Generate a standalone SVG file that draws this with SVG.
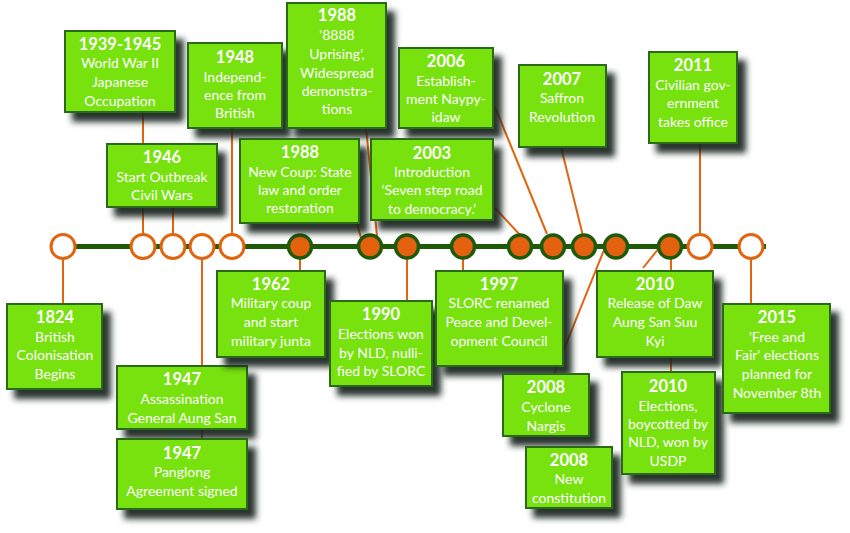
<svg xmlns="http://www.w3.org/2000/svg" width="850" height="533" viewBox="0 0 850 533">
<defs>
<filter id="sh" x="-20%" y="-20%" width="150%" height="150%">
<feDropShadow dx="8" dy="9" stdDeviation="3" flood-color="#18201a" flood-opacity="0.92"/>
</filter>
</defs>
<style>
.bx{fill:#77e20f;stroke:#2b6a16;stroke-width:2;filter:url(#sh)}
.t{font-family:Lato,"Open Sans",sans-serif;font-size:14px;fill:#fff;text-anchor:middle}
.y{font-weight:bold;font-size:16.5px}
.c{stroke:#e3640f;stroke-width:2;fill:none}
.o{fill:#fff;stroke:#e3640f;stroke-width:3}
.f{fill:#e3610f;stroke:#1e5a08;stroke-width:3.5}
</style>
<rect width="850" height="533" fill="#fff"/>
<g id="connectors">
<line class="c" x1="143" y1="112" x2="143" y2="240"/>
<line class="c" x1="173" y1="207" x2="173" y2="240"/>
<line class="c" x1="232" y1="128" x2="232" y2="240"/>
<line class="c" x1="366" y1="128" x2="377" y2="236"/>
<line class="c" x1="357" y1="223" x2="361" y2="238"/>
<line class="c" x1="495" y1="107" x2="547" y2="234"/>
<line class="c" x1="495" y1="208" x2="521" y2="236"/>
<line class="c" x1="561" y1="147" x2="583" y2="236"/>
<line class="c" x1="700" y1="143" x2="700" y2="240"/>
<line class="c" x1="63" y1="252" x2="63" y2="304"/>
<line class="c" x1="202" y1="252" x2="202" y2="439"/>
<line class="c" x1="300" y1="252" x2="300" y2="271"/>
<line class="c" x1="407" y1="252" x2="407" y2="301"/>
<line class="c" x1="463" y1="252" x2="463" y2="271"/>
<line class="c" x1="554" y1="374" x2="604" y2="250"/>
<line class="c" x1="643" y1="268" x2="659" y2="248"/>
<line class="c" x1="671" y1="252" x2="671" y2="372"/>
<line class="c" x1="751" y1="252" x2="751" y2="304"/>
</g>
<g id="timeline">
<line x1="50" y1="246.5" x2="766" y2="246.5" stroke="#1e5a08" stroke-width="5"/>
<circle class="o" cx="63" cy="246.5" r="12"/>
<circle class="o" cx="143" cy="246.5" r="12"/>
<circle class="o" cx="173" cy="246.5" r="12"/>
<circle class="o" cx="202" cy="246.5" r="12"/>
<circle class="o" cx="232" cy="246.5" r="12"/>
<circle class="f" cx="300" cy="246.5" r="11.5"/>
<circle class="f" cx="370" cy="246.5" r="11.5"/>
<circle class="f" cx="407" cy="246.5" r="11.5"/>
<circle class="f" cx="463" cy="246.5" r="11.5"/>
<circle class="f" cx="520" cy="246.5" r="11.5"/>
<circle class="f" cx="553" cy="246.5" r="11.5"/>
<circle class="f" cx="584" cy="246.5" r="11.5"/>
<circle class="f" cx="616" cy="246.5" r="11.5"/>
<circle class="f" cx="670" cy="246.5" r="11.5"/>
<circle class="o" cx="700" cy="246.5" r="12"/>
<circle class="o" cx="751" cy="246.5" r="12"/>
</g>
<g id="n1939">
<rect class="bx" x="65" y="31" width="110" height="81"/>
<text class="t"><tspan class="y" x="120" y="50">1939-1945</tspan><tspan x="120" y="68">World War II</tspan><tspan x="120" y="87">Japanese</tspan><tspan x="120" y="106">Occupation</tspan></text>
</g>
<g id="n1946">
<rect class="bx" x="107" y="144" width="110" height="63"/>
<text class="t"><tspan class="y" x="162" y="163">1946</tspan><tspan x="162" y="182">Start Outbreak</tspan><tspan x="162" y="200">Civil Wars</tspan></text>
</g>
<g id="n1948">
<rect class="bx" x="188" y="43" width="94" height="85"/>
<text class="t"><tspan class="y" x="235" y="63">1948</tspan><tspan x="235" y="82">Independ-</tspan><tspan x="235" y="100">ence from</tspan><tspan x="235" y="118">British</tspan></text>
</g>
<g id="n1988a">
<rect class="bx" x="287" y="3" width="99" height="125"/>
<text class="t"><tspan class="y" x="337" y="21">1988</tspan><tspan x="337" y="40">'8888</tspan><tspan x="337" y="59">Uprising',</tspan><tspan x="337" y="78">Widespread</tspan><tspan x="337" y="96">demonstra-</tspan><tspan x="337" y="114">tions</tspan></text>
</g>
<g id="n1988b">
<rect class="bx" x="240" y="139" width="119" height="84"/>
<text class="t"><tspan class="y" x="300" y="158">1988</tspan><tspan x="300" y="177">New Coup: State</tspan><tspan x="300" y="195">law and order</tspan><tspan x="300" y="213">restoration</tspan></text>
</g>
<g id="n2006">
<rect class="bx" x="399" y="48" width="94" height="80"/>
<text class="t"><tspan class="y" x="446" y="67">2006</tspan><tspan x="446" y="86">Establish-</tspan><tspan x="446" y="104">ment Naypy-</tspan><tspan x="446" y="122">idaw</tspan></text>
</g>
<g id="n2003">
<rect class="bx" x="371" y="139" width="122" height="81"/>
<text class="t"><tspan class="y" x="432" y="159">2003</tspan><tspan x="432" y="177">Introduction</tspan><tspan x="432" y="195">‘Seven step road</tspan><tspan x="432" y="214">to democracy.’</tspan></text>
</g>
<g id="n2007">
<rect class="bx" x="519" y="65" width="87" height="82"/>
<text class="t"><tspan class="y" x="562" y="85">2007</tspan><tspan x="562" y="103">Saffron</tspan><tspan x="562" y="122">Revolution</tspan></text>
</g>
<g id="n2011">
<rect class="bx" x="649" y="52" width="88" height="91"/>
<text class="t"><tspan class="y" x="693" y="71">2011</tspan><tspan x="693" y="90">Civilian gov-</tspan><tspan x="693" y="108">ernment</tspan><tspan x="693" y="127">takes office</tspan></text>
</g>
<g id="n1824">
<rect class="bx" x="7" y="304" width="95" height="85"/>
<text class="t"><tspan class="y" x="55" y="323">1824</tspan><tspan x="55" y="342">British</tspan><tspan x="55" y="360">Colonisation</tspan><tspan x="55" y="379">Begins</tspan></text>
</g>
<g id="n1947a">
<rect class="bx" x="117" y="366" width="130" height="63"/>
<text class="t"><tspan class="y" x="182" y="385">1947</tspan><tspan x="182" y="404">Assassination</tspan><tspan x="182" y="423">General Aung San</tspan></text>
</g>
<g id="n1947b">
<rect class="bx" x="117" y="439" width="130" height="70"/>
<text class="t"><tspan class="y" x="182" y="459">1947</tspan><tspan x="182" y="477">Panglong</tspan><tspan x="182" y="496">Agreement signed</tspan></text>
</g>
<g id="n1962">
<rect class="bx" x="217" y="271" width="108" height="86"/>
<text class="t"><tspan class="y" x="271" y="290">1962</tspan><tspan x="271" y="308">Military coup</tspan><tspan x="271" y="327">and start</tspan><tspan x="271" y="346">military junta</tspan></text>
</g>
<g id="n1990">
<rect class="bx" x="330" y="301" width="102" height="85"/>
<text class="t"><tspan class="y" x="381" y="320">1990</tspan><tspan x="381" y="339">Elections won</tspan><tspan x="381" y="358">by NLD, nulli-</tspan><tspan x="381" y="376">fied by SLORC</tspan></text>
</g>
<g id="n1997">
<rect class="bx" x="436" y="271" width="127" height="95"/>
<text class="t"><tspan class="y" x="499" y="290">1997</tspan><tspan x="499" y="308">SLORC renamed</tspan><tspan x="499" y="327">Peace and Devel-</tspan><tspan x="499" y="346">opment Council</tspan></text>
</g>
<g id="n2008a">
<rect class="bx" x="503" y="374" width="86" height="62"/>
<text class="t"><tspan class="y" x="546" y="393">2008</tspan><tspan x="546" y="412">Cyclone</tspan><tspan x="546" y="431">Nargis</tspan></text>
</g>
<g id="n2008b">
<rect class="bx" x="526" y="447" width="86" height="61"/>
<text class="t"><tspan class="y" x="569" y="466">2008</tspan><tspan x="569" y="484">New</tspan><tspan x="569" y="503">constitution</tspan></text>
</g>
<g id="n2010a">
<rect class="bx" x="597" y="271" width="116" height="86"/>
<text class="t"><tspan class="y" x="655" y="290">2010</tspan><tspan x="655" y="308">Release of Daw</tspan><tspan x="655" y="327">Aung San Suu</tspan><tspan x="655" y="346">Kyi</tspan></text>
</g>
<g id="n2010b">
<rect class="bx" x="622" y="372" width="93" height="102"/>
<text class="t"><tspan class="y" x="668" y="392">2010</tspan><tspan x="668" y="411">Elections,</tspan><tspan x="668" y="429">boycotted by</tspan><tspan x="668" y="447">NLD, won by</tspan><tspan x="668" y="466">USDP</tspan></text>
</g>
<g id="n2015">
<rect class="bx" x="723" y="304" width="107" height="109"/>
<text class="t"><tspan class="y" x="777" y="323">2015</tspan><tspan x="777" y="342">'Free and</tspan><tspan x="777" y="360">Fair' elections</tspan><tspan x="777" y="379">planned for</tspan><tspan x="777" y="398">November 8th</tspan></text>
</g>
</svg>
